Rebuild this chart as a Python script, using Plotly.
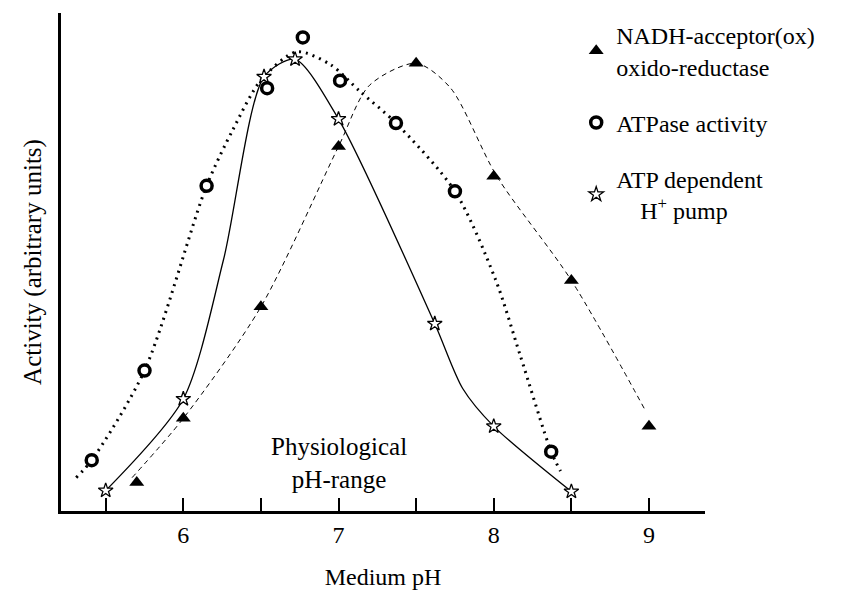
import plotly.graph_objects as go

# Measured points (medium pH, activity in arbitrary units 0-100)
ph_nadh = [5.7, 6.0, 6.5, 7.0, 7.5, 8.0, 8.5, 9.0]
act_nadh = [5.7, 18.6, 41.0, 73.2, 89.9, 67.2, 46.3, 17.0]

ph_atpase = [5.41, 5.75, 6.15, 6.54, 6.77, 7.01, 7.37, 7.75, 8.37]
act_atpase = [10.2, 28.2, 65.3, 84.9, 95.1, 86.4, 77.9, 64.2, 11.9]

ph_pump = [5.5, 6.0, 6.52, 6.72, 7.0, 7.62, 8.0, 8.5]
act_pump = [4.1, 22.5, 87.2, 90.7, 78.7, 37.6, 17.0, 3.9]

# Hand-drawn curves (nodes)
nadh_curve_ph = [5.67, 6.0, 6.5, 7.0, 7.2, 7.5, 7.72, 8.02, 8.5, 8.98]
nadh_curve_act = [6.7, 18.6, 41.0, 73.2, 85.5, 89.9, 85.0, 67.2, 46.3, 20.0]

atpase_curve_ph = [5.31, 5.41, 5.75, 6.15, 6.32, 6.5, 6.73, 6.95, 7.14, 7.37, 7.75, 8.01, 8.17, 8.37, 8.43]
atpase_curve_act = [6.7, 10.2, 28.2, 65.3, 76.6, 86.5, 92.2, 89.6, 84.2, 77.9, 64.2, 46.6, 31.3, 11.9, 8.0]

pump_curve_ph = [5.5, 6.0, 6.26, 6.52, 6.72, 7.0, 7.62, 7.8, 8.0, 8.5]
pump_curve_act = [4.1, 22.5, 50.6, 87.2, 90.7, 78.7, 37.6, 24.6, 17.0, 3.9]

major_ticks = [6, 7, 8, 9]
major_labels = ["6", "7", "8", "9"]
minor_ticks = [5.5, 6.5, 7.5, 8.5]

names = ["NADH-acceptor(ox)<br>oxido-reductase", "ATPase activity",
         "ATP dependent<br>    H<sup>+</sup> pump"]

FONT = "Liberation Serif, Times New Roman, serif"

fig = go.Figure()

# curves
fig.add_trace(go.Scatter(x=nadh_curve_ph, y=nadh_curve_act, mode="lines",
                         line=dict(color="black", width=1, dash="5px,4px", shape="spline", smoothing=0.8),
                         showlegend=False, hoverinfo="skip"))
fig.add_trace(go.Scatter(x=atpase_curve_ph, y=atpase_curve_act, mode="lines",
                         line=dict(color="black", width=3, dash="2px,5px", shape="spline", smoothing=0.8),
                         showlegend=False, hoverinfo="skip"))
fig.add_trace(go.Scatter(x=pump_curve_ph, y=pump_curve_act, mode="lines",
                         line=dict(color="black", width=1.3, shape="spline", smoothing=0.75),
                         showlegend=False, hoverinfo="skip"))

# markers
fig.add_trace(go.Scatter(x=ph_nadh, y=act_nadh, mode="markers", name=names[0], legendgroup="a",
                         marker=dict(symbol="triangle-up", size=13, color="black")))
fig.add_trace(go.Scatter(x=ph_atpase, y=act_atpase, mode="markers", name=names[1], legendgroup="b",
                         marker=dict(symbol="circle", size=11, color="white",
                                     line=dict(color="black", width=3.5))))
fig.add_trace(go.Scatter(x=ph_pump, y=act_pump, mode="markers", name=names[2], legendgroup="c",
                         marker=dict(symbol="star", size=11, color="white",
                                     line=dict(color="black", width=1.3))))

fig.add_annotation(x=7.0, y=9.6, xref="x", yref="y", text="Physiological<br>pH-range",
                   showarrow=False, font=dict(family=FONT, size=25, color="black"), align="center")

fig.update_layout(
    width=859, height=599,
    margin=dict(l=61, r=154, t=13, b=86),
    paper_bgcolor="white", plot_bgcolor="white",
    font=dict(family=FONT, size=24, color="black"),
    showlegend=True,
    legend=dict(x=0.80, y=1.0, xanchor="left", yanchor="top", bgcolor="rgba(0,0,0,0)",
                font=dict(family=FONT, size=24, color="black"), tracegroupgap=22,
                itemwidth=30),
    xaxis=dict(range=[5.212, 9.361], showgrid=False, zeroline=False, showline=True,
               linecolor="black", linewidth=3, tickvals=major_ticks, ticktext=major_labels,
               ticks="inside", ticklen=13, tickwidth=2, tickcolor="black",
               minor=dict(tickvals=minor_ticks, ticks="inside", ticklen=13, tickwidth=2,
                          tickcolor="black", showgrid=False),
               tickfont=dict(family=FONT, size=24), title=dict(text="Medium pH", standoff=22,
               font=dict(family=FONT, size=24))),
    yaxis=dict(range=[0, 100], showgrid=False, zeroline=False, showline=True,
               linecolor="black", linewidth=3, showticklabels=False, ticks="",
               title=dict(text="Activity (arbitrary units)", standoff=10,
                          font=dict(family=FONT, size=25))),
)

fig.write_html("out.html")
